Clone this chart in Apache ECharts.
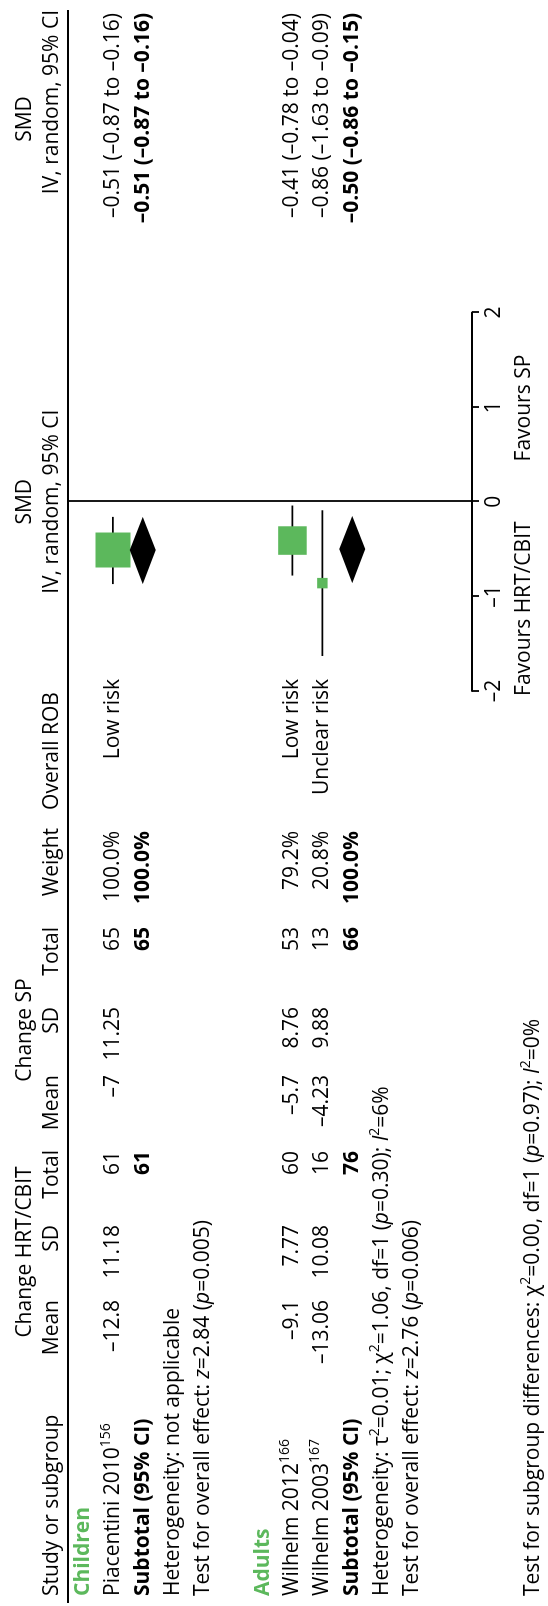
<!DOCTYPE html>
<html><head><meta charset="utf-8">
<script src="https://cdn.jsdelivr.net/npm/echarts@6/dist/echarts.min.js"></script>
<style>
html,body{margin:0;padding:0;background:#fff;width:548px;height:1606px;overflow:hidden}
#wrap{position:absolute;left:0;top:0;width:1606px;height:548px;transform-origin:0 0;transform:translate(0,1606px) rotate(-90deg)}
#chart{width:1606px;height:548px}
</style></head><body><div id="wrap"><div id="chart"></div></div>
<script>
// ---------------- DATA ----------------
const subgroupNames = ['Children', 'Adults'];
const studyNames = ['Piacentini 2010^{156}', 'Wilhelm 2012^{166}', 'Wilhelm 2003^{167}'];
const studyGroup = [0, 1, 1];
const hrtMean = [-12.8, -9.1, -13.06];
const hrtSD = [11.18, 7.77, 10.08];
const hrtTotal = [61, 60, 16];
const spMean = [-7, -5.7, -4.23];
const spSD = [11.25, 8.76, 9.88];
const spTotal = [65, 53, 13];
const studyWeight = [100.0, 79.2, 20.8];
const studyROB = ['Low risk', 'Low risk', 'Unclear risk'];
const studySMD = [-0.51, -0.41, -0.86];
const studyLo = [-0.87, -0.78, -1.63];
const studyHi = [-0.16, -0.04, -0.09];
const subHrtTotal = [61, 76];
const subSpTotal = [65, 66];
const subWeight = [100.0, 100.0];
const subSMD = [-0.51, -0.50];
const subLo = [-0.87, -0.86];
const subHi = [-0.16, -0.15];
const subHeterogeneity = ['Heterogeneity: not applicable',
  'Heterogeneity: τ^{2}=0.01; χ^{2}=1.06, df=1 (_{p}=0.30); _{I}^{2}=6%'];
const subOverall = ['Test for overall effect: _{z}=2.84 (_{p}=0.005)',
  'Test for overall effect: _{z}=2.76 (_{p}=0.006)'];
const subgroupDiffText = 'Test for subgroup differences: χ^{2}=0.00, df=1 (_{p}=0.97); _{I}^{2}=0%';
const axisTicks = [-2, -1, 0, 1, 2];
const favourLeft = 'Favours HRT/CBIT';
const favourRight = 'Favours SP';

// ---------------- LAYOUT ----------------
const FONT = '"Open Sans", "Noto Sans", sans-serif';
const FS = 21, SUPFS = 14;
const GREEN = '#5cb85c';
const W = 1606, HT = 548;
const ROW0 = 68, AXIS_Y = 472;

const rowsOf = [];
let r = 0;
subgroupNames.forEach((g, gi) => {
  const o = {header: r++};
  o.studies = [];
  studyGroup.forEach((sg, si) => { if (sg === gi) o.studies.push([si, r++]); });
  o.subtotal = r++; o.het = r++; o.overall = r++;
  r++; // blank row
  rowsOf.push(o);
});

const ctx = document.createElement('canvas').getContext('2d');
function segFont(s) { return (s.i ? 'italic ' : '') + (s.b ? 'bold ' : '') + (s.sup ? SUPFS : FS) + 'px ' + FONT; }
function parse(str, base) {
  const segs = []; const re = /([\^_])\{([^}]*)\}/g; let last = 0, m;
  while ((m = re.exec(str))) {
    if (m.index > last) segs.push(Object.assign({t: str.slice(last, m.index)}, base));
    const s = Object.assign({t: m[2]}, base);
    if (m[1] === '^') s.sup = true; else s.i = true;
    segs.push(s); last = re.lastIndex;
  }
  if (last < str.length) segs.push(Object.assign({t: str.slice(last)}, base));
  return segs;
}
const els = [];
function txt(x, y, str, align, base) {
  const segs = parse(String(str), base || {});
  let total = 0;
  segs.forEach(s => { ctx.font = segFont(s); s.w = ctx.measureText(s.t).width; total += s.w; });
  let cx = align === 'right' ? x - total : align === 'center' ? x - total / 2 : x;
  segs.forEach(s => {
    els.push({type: 'text', x: cx, y: s.sup ? y - 7 : y, silent: true,
      style: {text: s.t, font: segFont(s), fill: s.c || '#000', textAlign: 'left', textVerticalAlign: 'middle', align: 'left', verticalAlign: 'middle'}});
    cx += s.w;
  });
}
const fmt = v => String(v).replace('-', '–');

const chart = echarts.init(document.getElementById('chart'), null, {renderer: 'canvas'});
const xMin = axisTicks[0], xMax = axisTicks[axisTicks.length - 1];

const studyData = studySMD.map((v, i) => [v, rowsOf[studyGroup[i]].studies.find(s => s[0] === i)[1], studyLo[i], studyHi[i], studyWeight[i]]);
const subData = subSMD.map((v, i) => [v, rowsOf[i].subtotal, subLo[i], subHi[i]]);

chart.setOption({
  animation: false,
  grid: {left: 915, right: W - 1293.5, top: ROW0, bottom: HT - AXIS_Y},
  xAxis: {type: 'value', min: xMin, max: xMax, interval: 1, position: 'bottom',
    axisLine: {show: true, onZero: false, lineStyle: {color: '#000', width: 1.8}},
    axisTick: {show: true, length: 7, lineStyle: {color: '#000', width: 1.8}},
    axisLabel: {show: true, color: '#000', fontSize: FS, fontFamily: FONT, margin: 12, formatter: v => fmt(v)},
    splitLine: {show: false}},
  yAxis: {type: 'value', min: -0.5, max: 13, inverse: true, show: false},
  series: [
    {type: 'custom', data: studyData, clip: false,
      renderItem: (params, api) => {
        const c = api.coord([api.value(0), api.value(1)]);
        const a = api.coord([api.value(2), api.value(1)]);
        const b = api.coord([api.value(3), api.value(1)]);
        const sz = 4 + 0.31 * api.value(4);
        return {type: 'group', children: [
          {type: 'line', shape: {x1: a[0], y1: a[1], x2: b[0], y2: b[1]}, style: {stroke: '#000', lineWidth: 1.8}},
          {type: 'rect', shape: {x: c[0] - sz / 2, y: c[1] - sz / 2, width: sz, height: sz}, style: {fill: GREEN}}
        ]};
      }},
    {type: 'custom', data: subData, clip: false,
      renderItem: (params, api) => {
        const c = api.coord([api.value(0), api.value(1)]);
        const a = api.coord([api.value(2), api.value(1)]);
        const b = api.coord([api.value(3), api.value(1)]);
        const h = 13;
        return {type: 'polygon', shape: {points: [[a[0], a[1]], [c[0], c[1] - h], [b[0], b[1]], [c[0], c[1] + h]]}, style: {fill: '#000'}};
      }},
    {type: 'line', data: [], markLine: {silent: true, symbol: 'none', label: {show: false},
      lineStyle: {color: '#000', width: 1.8, type: 'solid'}, data: [{xAxis: 0}]}}
  ]
});

// ---------------- TABLE TEXT ----------------
const rowY = i => chart.convertToPixel({yAxisIndex: 0}, i);
const xPix = v => chart.convertToPixel({xAxisIndex: 0}, v);
const H1 = 25, H2 = 52;
const C = {study: 10, hMean: 306, hSD: 381, hTot: 455, sMean: 531, sSD: 599, sTot: 679, wt: 775, rob: 927, smdR: 1593};
txt(354, H1, 'Change HRT/CBIT', 'center');
txt(576, H1, 'Change SP', 'center');
txt(xPix(0), H1, 'SMD', 'center');
txt(1487, H1, 'SMD', 'center');
txt(C.study, H2, 'Study or subgroup', 'left');
txt(C.hMean, H2, 'Mean', 'right');
txt(C.hSD, H2, 'SD', 'right');
txt(C.hTot + 1, H2, 'Total', 'right');
txt(C.sMean, H2, 'Mean', 'right');
txt(C.sSD, H2, 'SD', 'right');
txt(C.sTot, H2, 'Total', 'right');
txt(C.wt + 3, H2, 'Weight', 'right');
txt(855, H2, 'Overall ROB', 'center');
txt(xPix(0), H2, 'IV, random, 95% CI', 'center');
txt(C.smdR + 3, H2, 'IV, random, 95% CI', 'right');
els.push({type: 'line', silent: true, shape: {x1: 3, y1: ROW0, x2: 1596, y2: ROW0}, style: {stroke: '#000', lineWidth: 1.8}});

rowsOf.forEach((g, gi) => {
  txt(C.study, rowY(g.header), subgroupNames[gi], 'left', {b: true, c: GREEN});
  g.studies.forEach(([si, row]) => {
    const y = rowY(row);
    txt(C.study, y, studyNames[si], 'left');
    txt(C.hMean, y, fmt(hrtMean[si]), 'right');
    txt(C.hSD, y, fmt(hrtSD[si]), 'right');
    txt(C.hTot, y, hrtTotal[si], 'right');
    txt(C.sMean, y, fmt(spMean[si]), 'right');
    txt(C.sSD, y, fmt(spSD[si]), 'right');
    txt(C.sTot, y, spTotal[si], 'right');
    txt(C.wt, y, studyWeight[si].toFixed(1) + '%', 'right');
    txt(C.rob, y, studyROB[si], 'right');
    txt(C.smdR, y, fmt(studySMD[si].toFixed(2)) + ' (' + fmt(studyLo[si].toFixed(2)) + ' to ' + fmt(studyHi[si].toFixed(2)) + ')', 'right');
  });
  const y = rowY(g.subtotal);
  txt(C.study, y, 'Subtotal (95% CI)', 'left', {b: true});
  txt(C.hTot, y, subHrtTotal[gi], 'right', {b: true});
  txt(C.sTot, y, subSpTotal[gi], 'right', {b: true});
  txt(C.wt, y, subWeight[gi].toFixed(1) + '%', 'right', {b: true});
  txt(C.smdR, y, fmt(subSMD[gi].toFixed(2)) + ' (' + fmt(subLo[gi].toFixed(2)) + ' to ' + fmt(subHi[gi].toFixed(2)) + ')', 'right', {b: true});
  txt(C.study, rowY(g.het), subHeterogeneity[gi], 'left');
  txt(C.study, rowY(g.overall), subOverall[gi], 'left');
});
txt(C.study, 533, subgroupDiffText, 'left');
txt(xPix(-1.13), 524, favourLeft, 'center');
txt(xPix(0.99), 524, favourRight, 'center');

chart.setOption({graphic: {elements: els}});
</script></body></html>
